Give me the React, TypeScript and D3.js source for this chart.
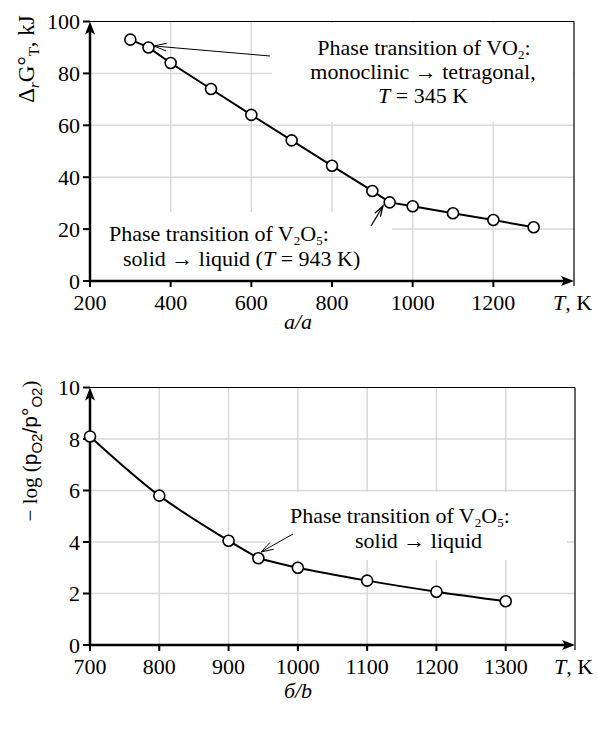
import React from "react";
import * as d3 from "d3";

const T_A = [300, 345, 400, 500, 600, 700, 800, 900, 943, 1000, 1100, 1200, 1300];
const G_A = [93, 90, 84, 74, 64, 54.2, 44.4, 34.7, 30.3, 28.8, 26.1, 23.5, 20.7];
const XTICKS_A = [200, 400, 600, 800, 1000, 1200];
const YTICKS_A = [0, 20, 40, 60, 80, 100];

const T_B = [700, 800, 900, 943, 1000, 1100, 1200, 1300];
const P_B = [8.1, 5.8, 4.05, 3.37, 3.0, 2.5, 2.07, 1.7];
const XTICKS_B = [700, 800, 900, 1000, 1100, 1200, 1300];
const YTICKS_B = [0, 2, 4, 6, 8, 10];

const SERIF = "'Liberation Serif', 'Times New Roman', serif";
const SANS = "'Liberation Sans', Arial, sans-serif";
const GRID = "#d9d9d9";
const TICK_FS = 22;
const ANN_FS = 22;

function AxisFrame({ x, y, xGrid, yGrid }: any) {
  const [x0, x1] = x.range();
  const [y0, y1] = y.range();
  return (
    <g>
      {xGrid.map((t: number) => (
        <line key={"gx" + t} x1={x(t)} x2={x(t)} y1={y0} y2={y1} stroke={GRID} strokeWidth={1.5} />
      ))}
      {yGrid.map((t: number) => (
        <line key={"gy" + t} x1={x0} x2={x1} y1={y(t)} y2={y(t)} stroke={GRID} strokeWidth={1.5} />
      ))}
    </g>
  );
}

function Axes({ x, y, xTicks, yTicks }: any) {
  const [x0, x1] = x.range();
  const [y0, y1] = y.range();
  return (
    <g>
      <line x1={x0} x2={x1} y1={y1} y2={y1} stroke="#000" strokeWidth={1.2} />
      <line x1={x1} x2={x1} y1={y1} y2={y0 + 5} stroke="#000" strokeWidth={1.2} />
      <line x1={x0} x2={x0} y1={y0 + 1} y2={y1 + 6} stroke="#000" strokeWidth={2.5} />
      <line x1={x0 - 1} x2={x1 - 6} y1={y0} y2={y0} stroke="#000" strokeWidth={2.5} />
      <path d={`M${x0},${y1} L${x0 - 5},${y1 + 13} L${x0},${y1 + 10} L${x0 + 5},${y1 + 13} Z`} fill="#000" />
      <path d={`M${x1},${y0} L${x1 - 13},${y0 - 5} L${x1 - 10},${y0} L${x1 - 13},${y0 + 5} Z`} fill="#000" />
      {yTicks.map((t: number) => (
        <g key={"yt" + t}>
          <line x1={x0 - 7} x2={x0} y1={y(t)} y2={y(t)} stroke="#000" strokeWidth={2} />
          <text x={x0 - 10} y={y(t) + 7.5} textAnchor="end" fontSize={TICK_FS} fontFamily={SERIF}>{t}</text>
        </g>
      ))}
      {xTicks.map((t: number) => (
        <g key={"xt" + t}>
          <line x1={x(t)} x2={x(t)} y1={y0} y2={y0 + 6} stroke="#000" strokeWidth={2} />
          <text x={x(t)} y={y0 + 29} textAnchor="middle" fontSize={TICK_FS} fontFamily={SERIF}>{t}</text>
        </g>
      ))}
      <text x={x1 - 21} y={y0 + 29} fontSize={TICK_FS} fontFamily={SERIF}>
        <tspan fontStyle="italic">T</tspan>, K
      </text>
    </g>
  );
}

function Markers({ x, y, xs, ys }: any) {
  return (
    <g>
      {xs.map((t: number, i: number) => (
        <circle key={i} cx={x(t)} cy={y(ys[i])} r={5.5} fill="#fff" stroke="#000" strokeWidth={1.6} />
      ))}
    </g>
  );
}

function OpenArrow({ x1, y1, x2, y2, len = 11, spread = 0.38, width = 1 }: any) {
  const a = Math.atan2(y2 - y1, x2 - x1);
  const l1x = x2 - len * Math.cos(a - spread);
  const l1y = y2 - len * Math.sin(a - spread);
  const l2x = x2 - len * Math.cos(a + spread);
  const l2y = y2 - len * Math.sin(a + spread);
  return (
    <g stroke="#000" strokeWidth={width} fill="none">
      <line x1={x1} y1={y1} x2={x2} y2={y2} />
      <path d={`M${l1x},${l1y} L${x2},${y2} L${l2x},${l2y}`} />
    </g>
  );
}

export default function App() {
  // Chart a
  const xa = d3.scaleLinear().domain([200, 1400]).range([90, 574]);
  const ya = d3.scaleLinear().domain([0, 100]).range([281, 21.5]);
  const lineA = d3
    .line<number>()
    .x((_, i) => xa(T_A[i]))
    .y((d) => ya(d));

  // Chart b
  const xb = d3.scaleLinear().domain([700, 1400]).range([90, 575]);
  const yb = d3.scaleLinear().domain([0, 10]).range([645, 387.5]);
  const splitB = 3; // index of 943 K (phase transition)
  const lineB = d3
    .line<number>()
    .x((d) => xb(T_B[d]))
    .y((d) => yb(P_B[d]))
    .curve(d3.curveCatmullRom.alpha(0.5));
  const idxB1 = d3.range(0, splitB + 1);
  const idxB2 = d3.range(splitB, T_B.length);

  return (
    <svg width={597} height={729} style={{ position: "absolute", left: 0, top: 0, background: "#fff" }}>
      <rect width={597} height={729} fill="#fff" />
      {/* ---------- chart a ---------- */}
      <AxisFrame x={xa} y={ya} xGrid={[400, 600, 800, 1000, 1200]} yGrid={[20, 40, 60, 80]} />
      <rect x={272} y={23} width={301} height={99} fill="#fff" />
      <rect x={91} y={212} width={301} height={68} fill="#fff" />
      <Axes x={xa} y={ya} xTicks={XTICKS_A} yTicks={YTICKS_A} />
      <path d={lineA(G_A) || ""} fill="none" stroke="#000" strokeWidth={2} />
      <Markers x={xa} y={ya} xs={T_A} ys={G_A} />
      <OpenArrow x1={270} y1={56} x2={154} y2={46} len={13} spread={0.3} />
      <OpenArrow x1={371} y1={226} x2={383} y2={206} len={11} spread={0.3} width={1.3} />
      <text x={424} y={55} textAnchor="middle" fontSize={ANN_FS} fontFamily={SERIF}>
        Phase transition of VO<tspan dy={4} fontSize={13}>2</tspan><tspan dy={-4}>:</tspan>
      </text>
      <text x={423} y={79} textAnchor="middle" fontSize={ANN_FS} fontFamily={SERIF}>
        monoclinic → tetragonal,
      </text>
      <text x={423} y={103} textAnchor="middle" fontSize={ANN_FS} fontFamily={SERIF}>
        <tspan fontStyle="italic">T</tspan> = 345 K
      </text>
      <text x={109} y={241} fontSize={ANN_FS} fontFamily={SERIF}>
        Phase transition of V<tspan dy={4} fontSize={13}>2</tspan><tspan dy={-4}>O</tspan>
        <tspan dy={4} fontSize={13}>5</tspan><tspan dy={-4}>:</tspan>
      </text>
      <text x={123} y={266} fontSize={ANN_FS} fontFamily={SERIF}>
        solid → liquid (<tspan fontStyle="italic">T</tspan> = 943 K)
      </text>
      <text transform="translate(34,59) rotate(-90)" textAnchor="middle" fontSize={23} fontFamily={SERIF}>
        Δ<tspan dy={5} fontSize={15} fontStyle="italic">r</tspan>
        <tspan dy={-5}>G°</tspan>
        <tspan dy={5} fontSize={15}>T</tspan>
        <tspan dy={-5}>, kJ</tspan>
      </text>
      <text x={298} y={329} textAnchor="middle" fontSize={22} fontFamily={SERIF} fontStyle="italic">
        a/a
      </text>

      {/* ---------- chart b ---------- */}
      <AxisFrame x={xb} y={yb} xGrid={[800, 900, 1000, 1100, 1200, 1300]} yGrid={[2, 4, 6, 8]} />
      <rect x={267} y={492} width={300} height={68} fill="#fff" />
      <Axes x={xb} y={yb} xTicks={XTICKS_B} yTicks={YTICKS_B} />
      <path d={lineB(idxB1) || ""} fill="none" stroke="#000" strokeWidth={2} />
      <path d={lineB(idxB2) || ""} fill="none" stroke="#000" strokeWidth={2} />
      <Markers x={xb} y={yb} xs={T_B} ys={P_B} />
      <OpenArrow x1={293} y1={534} x2={261} y2={552} len={13} spread={0.3} />
      <text x={290} y={523} fontSize={ANN_FS} fontFamily={SERIF}>
        Phase transition of V<tspan dy={4} fontSize={13}>2</tspan><tspan dy={-4}>O</tspan>
        <tspan dy={4} fontSize={13}>5</tspan><tspan dy={-4}>:</tspan>
      </text>
      <text x={355} y={548} fontSize={ANN_FS} fontFamily={SERIF}>
        solid → liquid
      </text>
      <text transform="translate(37,451) rotate(-90)" textAnchor="middle" fontSize={21} fontFamily={SERIF}>
        − log (<tspan fontFamily={SANS}>p</tspan>
        <tspan dy={5} fontSize={15} fontFamily={SANS}>O2</tspan>
        <tspan dy={-5} fontFamily={SANS}>/p°</tspan>
        <tspan dy={5} fontSize={15} fontFamily={SANS}>O2</tspan>
        <tspan dy={-5}>)</tspan>
      </text>
      <text x={298} y={698} textAnchor="middle" fontSize={22} fontFamily={SERIF} fontStyle="italic">
        б/b
      </text>
    </svg>
  );
}
